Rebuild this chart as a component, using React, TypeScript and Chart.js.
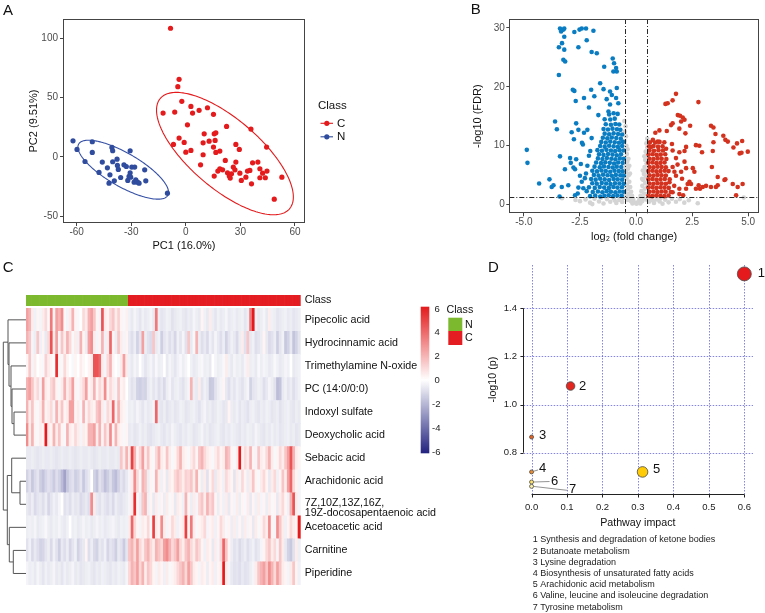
import React, { useEffect, useRef } from "react";
import { Chart, registerables } from "chart.js";

Chart.register(...registerables);

const FONT = "'Liberation Sans', Arial, Helvetica, sans-serif";

// ---------------- Panel A : PCA scores ----------------
const pcaClassC: number[][] = [
  [-8.4, 108.5], [-3.7, 65.4], [-4.4, 59.2], [-2.2, 46.8], [-12.5, 36.9], [-6.1, 37.7], [2.8, 42.5], [3.7, 36.9],
  [7.3, 39.2], [11.9, 41.4], [15.2, 35.8], [0.9, 27], [-3.7, 15.8], [-6.8, 10.4], [-0.9, 12.1], [0, 3.9], [2.8, 5.4],
  [10.1, 19.4], [9.5, 11.8], [9.5, 1.7], [12.8, 13.2], [15.6, 19.4], [16.1, 13.8], [15.2, 8.2], [16.5, 3.7], [18.7, 4.8],
  [22.4, 25.6], [27.5, 10.4], [29.4, 6.2], [35.8, 23.4], [44.4, 8.2], [8.1, -6.8], [15.6, -16.3], [17.6, -12.1],
  [18.7, -10.1], [20.2, -11], [21.7, -3.1], [22.9, -13.5], [23.9, -16.3], [24.4, -18], [26.1, -8.7], [27, -11],
  [27.5, -4.5], [29.7, -13.8], [30.5, -20], [33, -17.2], [33.9, -12.1], [35.2, -11.5], [36.1, -22.8], [36.7, -5.1],
  [39.6, -4.5], [40.7, -10.1], [40.7, -17.7], [42.2, -13.8], [43.7, -17.7], [44.6, -12.1], [52.8, -17.2],
  [48.6, -35.8], [25.1, -14.4], [16.5, 20.2],
];
const pcaClassN: number[][] = [
  [-62, 13.5], [-59.8, 6.2], [-55.4, -4], [-51.4, 12.7], [-51.4, 3.7], [-47.7, -13.2], [-45.9, -4.5], [-43.1, -9.3],
  [-41.7, -15.2], [-42.2, -22.3], [-40.6, 7.9], [-40.2, 5.1], [-40.2, -4.2], [-39.3, -20.3], [-37.8, -2], [-37.6, -7.3],
  [-37.1, -10.7], [-35.8, -17.5], [-34, -6.8], [-32.7, -8.2], [-31.9, -20], [-31.2, -16.6], [-30.6, 5.1], [-30.6, -13.5],
  [-30.3, -17.2], [-29.7, -8.7], [-28.4, -21.4], [-28.1, -8.7], [-27.5, -19.4], [-26.6, -21.4], [-25.7, -22.3],
  [-22.6, -11], [-22, -20.3], [-10.1, -30.7],
];
// confidence ellipses: centre, x half-range, y components (cos / sin)
const ellipseC = { cx: 21.5, cy: 2.7, ax: 37.6, yc: -36.65, ys: 36.4 };
const ellipseN = { cx: -34.4, cy: -10.9, ax: 24.9, yc: -19.05, ys: 16.0 };
const pcaXTicks = [-60, -30, 0, 30, 60];
const pcaYTicks = [-50, 0, 50, 100];

// ---------------- Panel B : volcano ----------------
const volcanoDownSparse: number[][] = [
  [-3.39, 29.9], [-3.24, 29.7], [-3.2, 29.9], [-3.34, 29.4], [-3.2, 28.5], [-3.3, 27.4], [-3.44, 26.7], [-3.2, 26.3],
  [-3.24, 24.6], [-3.16, 24.3], [-3.44, 22.0], [-2.75, 29.3], [-2.52, 29.7], [-2.42, 29.9], [-2.23, 29.9], [-1.9, 29.5],
  [-2.2, 27.9], [-2.57, 26.7], [-1.98, 25.9], [-1.75, 25.7], [-1.42, 23.4], [-1.04, 24.8], [-0.98, 24.0], [-0.89, 23.2],
  [-1.01, 22.6], [-0.86, 22.6], [-2.82, 19.5], [-2.75, 19.3], [-2.0, 19.5], [-1.6, 20.6], [-1.45, 19.6], [-2.69, 17.6],
  [-2.32, 18.1], [-2.1, 16.5], [-1.86, 18.4], [-1.16, 19.2], [-1.08, 18.6], [-0.86, 19.8], [-0.89, 18.1], [-1.31, 17.9],
  [-1.16, 17.0], [-0.79, 17.2], [-0.82, 15.4], [-1.23, 15.8], [-1.68, 15.2], [-3.61, 14.1], [-3.53, 12.8], [-2.67, 13.8],
  [-2.87, 12.3], [-2.57, 12.7], [-2.77, 11.1], [-2.32, 12.2], [-2.17, 12.7], [-1.98, 11.3], [-2.37, 10.2], [-2.04, 9.1],
  [-2.41, 10.5], [-4.87, 9.3], [-4.84, 7.1], [-3.39, 8.2], [-2.94, 7.9], [-2.91, 7.1], [-2.67, 7.7], [-2.46, 6.9],
  [-2.79, 6.3], [-2.72, 6.0], [-3.17, 6.0], [-2.17, 6.6], [-3.86, 4.3], [-4.32, 3.6], [-3.68, 3.3], [-3.76, 3.0],
  [-3.31, 3.0], [-3.02, 3.3], [-3.41, 1.4], [-2.72, 1.6], [-2.57, 2.9], [-2.35, 2.8], [-2.42, 3.9], [-2.28, 4.5],
  [-2.23, 5.3], [-2.6, 1.9], [-2.5, 4.9], [-2.1, 8.3],
];
const volcanoDownDense: number[][] = [
  [-2.05, 1.45], [-1.82, 1.55], [-1.6, 1.4], [-1.41, 1.5], [-1.22, 1.6], [-1.02, 1.45], [-0.83, 1.55], [-0.64, 1.5],
  [-2.2, 2.3], [-1.93, 2.15], [-1.7, 2.25], [-1.5, 2.1], [-1.31, 2.3], [-1.12, 2.2], [-0.92, 2.1], [-0.73, 2.25], [-0.56, 2.2],
  [-2.1, 2.95], [-1.84, 2.85], [-1.62, 3.0], [-1.42, 2.9], [-1.21, 2.85], [-1.01, 3.0], [-0.83, 2.9], [-0.63, 2.95],
  [-1.95, 3.65], [-1.75, 3.55], [-1.53, 3.7], [-1.33, 3.6], [-1.14, 3.5], [-0.94, 3.65], [-0.74, 3.6], [-0.55, 3.55],
  [-2.0, 4.35], [-1.8, 4.25], [-1.6, 4.4], [-1.4, 4.3], [-1.2, 4.2], [-1.0, 4.35], [-0.82, 4.3], [-0.62, 4.25],
  [-1.88, 5.05], [-1.67, 4.95], [-1.47, 5.1], [-1.27, 5.0], [-1.08, 4.9], [-0.9, 5.05], [-0.7, 5.0], [-0.55, 4.95],
  [-1.95, 5.75], [-1.74, 5.65], [-1.54, 5.8], [-1.35, 5.7], [-1.15, 5.6], [-0.96, 5.75], [-0.77, 5.7], [-0.6, 5.65],
  [-1.85, 6.45], [-1.62, 6.35], [-1.43, 6.5], [-1.23, 6.4], [-1.04, 6.3], [-0.86, 6.45], [-0.66, 6.4],
  [-1.78, 7.15], [-1.56, 7.05], [-1.37, 7.2], [-1.17, 7.1], [-0.98, 7.0], [-0.8, 7.15], [-0.6, 7.1],
  [-1.7, 7.85], [-1.5, 7.75], [-1.3, 7.9], [-1.1, 7.8], [-0.92, 7.7], [-0.72, 7.85], [-0.55, 7.8],
  [-1.65, 8.55], [-1.45, 8.45], [-1.25, 8.6], [-1.05, 8.5], [-0.86, 8.4], [-0.67, 8.55],
  [-1.72, 9.25], [-1.52, 9.15], [-1.32, 9.3], [-1.12, 9.2], [-0.93, 9.1], [-0.74, 9.25], [-0.56, 9.2],
  [-1.6, 9.95], [-1.4, 9.85], [-1.2, 10.0], [-1.0, 9.9], [-0.81, 9.8], [-0.62, 9.95],
  [-1.55, 10.65], [-1.35, 10.55], [-1.15, 10.7], [-0.95, 10.6], [-0.76, 10.5], [-0.58, 10.65],
  [-1.48, 11.35], [-1.28, 11.25], [-1.08, 11.4], [-0.88, 11.3], [-0.68, 11.2],
  [-1.4, 12.05], [-1.2, 11.95], [-1.0, 12.1], [-0.8, 12.0], [-0.62, 11.9],
  [-1.45, 12.85], [-1.25, 12.75], [-1.05, 12.9], [-0.85, 12.8], [-0.7, 12.7],
  [-1.35, 13.65], [-1.12, 13.55], [-0.92, 13.7], [-0.75, 13.6],
  [-1.4, 14.5], [-1.15, 14.45], [-0.95, 14.6], [-1.2, 15.3], [-1.0, 15.5],
];
const volcanoUpSparse: number[][] = [
  [1.78, 18.8], [1.63, 17.7], [1.41, 17.2], [1.31, 17.1], [2.78, 17.4], [1.86, 15.2], [1.96, 15.1], [2.08, 14.8],
  [2.16, 14.4], [2.01, 14.1], [1.63, 13.8], [1.56, 13.5], [1.93, 12.9], [2.2, 12.1], [2.41, 13.4], [1.04, 12.6],
  [0.86, 12.2], [1.37, 12.5], [3.34, 13.4], [3.45, 13.1], [3.54, 12.0], [3.45, 10.6], [3.89, 11.7], [3.98, 11.0],
  [4.09, 10.7], [4.34, 9.7], [4.5, 10.4], [4.73, 10.8], [4.62, 8.7], [4.7, 8.8], [4.98, 9.0], [3.42, 9.1], [2.94, 8.9],
  [2.82, 10.0], [2.67, 10.1], [2.23, 9.8], [2.16, 9.1], [1.93, 8.9], [1.78, 7.9], [2.16, 7.3], [2.23, 6.2], [2.01, 5.6],
  [2.53, 6.2], [2.6, 5.6], [3.38, 6.4], [3.64, 4.7], [3.98, 4.3], [3.94, 4.2], [3.64, 3.3], [3.56, 3.0], [3.34, 3.0],
  [3.12, 3.2], [2.97, 3.0], [2.85, 2.7], [2.79, 3.3], [2.67, 2.7], [2.38, 3.9], [2.3, 3.5], [2.45, 3.5], [2.23, 2.7],
  [4.31, 3.5], [4.53, 3.0], [4.75, 3.5], [4.46, 1.6], [1.93, 2.7], [1.93, 1.8], [2.1, 1.6], [1.63, 2.1], [1.49, 3.8],
  [1.78, 4.9], [1.71, 5.6], [1.63, 6.4], [1.63, 9.2], [1.6, 10.3], [1.34, 9.5], [1.26, 10.6], [0.75, 11.0], [0.97, 10.7],
  [0.67, 9.8], [1.7, 3.2], [1.85, 6.8], [2.05, 4.4],
];
const volcanoUpDense: number[][] = [
  [0.55, 1.5], [0.72, 1.45], [0.9, 1.55], [1.08, 1.5], [1.26, 1.45], [1.45, 1.55],
  [0.6, 2.2], [0.78, 2.25], [0.96, 2.15], [1.14, 2.25], [1.32, 2.2], [1.55, 2.15],
  [0.55, 2.9], [0.73, 2.95], [0.91, 2.85], [1.09, 2.95], [1.27, 2.9], [1.46, 2.85],
  [0.6, 3.6], [0.78, 3.55], [0.96, 3.65], [1.14, 3.6], [1.33, 3.55],
  [0.55, 4.3], [0.73, 4.35], [0.91, 4.25], [1.09, 4.3], [1.28, 4.35], [1.5, 4.3],
  [0.6, 5.0], [0.78, 4.95], [0.96, 5.05], [1.14, 5.0], [1.33, 4.95],
  [0.55, 5.7], [0.73, 5.75], [0.91, 5.65], [1.09, 5.7], [1.28, 5.75], [1.45, 5.7],
  [0.6, 6.4], [0.78, 6.35], [0.96, 6.45], [1.14, 6.4], [1.33, 6.35],
  [0.55, 7.1], [0.73, 7.15], [0.91, 7.05], [1.09, 7.1], [1.27, 7.15],
  [0.6, 7.8], [0.78, 7.75], [0.96, 7.85], [1.14, 7.8], [1.35, 7.75],
  [0.56, 8.5], [0.74, 8.55], [0.92, 8.45], [1.1, 8.5], [1.3, 8.55],
  [0.6, 9.2], [0.8, 9.15], [1.0, 9.25], [1.2, 9.2],
  [0.58, 9.9], [0.78, 9.95], [0.98, 9.85], [1.18, 9.9],
  [0.62, 10.6], [0.85, 10.55], [1.05, 10.65],
];
const volcanoNotSig: number[][] = [
  [-0.52, 14.2], [-0.47, 13.3], [-0.5, 12.4], [-0.45, 11.6], [-0.5, 10.8], [-0.43, 10.0], [-0.49, 9.3], [-0.41, 8.6],
  [-0.48, 7.9], [-0.39, 7.3], [-0.46, 6.7], [-0.36, 6.1], [-0.44, 5.5], [-0.33, 5.0], [-0.42, 4.4], [-0.3, 3.9],
  [-0.4, 3.4], [-0.26, 3.0], [-0.37, 2.6], [-0.22, 2.2], [-0.33, 1.8], [-0.18, 1.5], [-0.28, 1.1], [-0.13, 0.9],
  [-0.22, 0.6], [-0.08, 0.4], [-0.16, 0.2], [-0.5, 4.8], [-0.5, 3.2], [-0.49, 2.0], [-0.45, 1.3], [-0.36, 0.8],
  [-0.5, 6.0], [-0.34, 7.8], [-0.38, 9.4], [-0.3, 6.6], [-0.27, 5.3],
  [0.5, 11.2], [0.46, 10.4], [0.5, 9.7], [0.43, 9.0], [0.49, 8.3], [0.41, 7.6], [0.47, 7.0], [0.38, 6.4], [0.45, 5.8],
  [0.35, 5.2], [0.43, 4.7], [0.32, 4.2], [0.41, 3.7], [0.28, 3.2], [0.39, 2.7], [0.24, 2.3], [0.36, 1.9], [0.2, 1.5],
  [0.32, 1.2], [0.15, 0.9], [0.27, 0.6], [0.08, 0.4], [0.19, 0.2], [0.02, 0.15], [0.5, 5.0], [0.5, 3.0], [0.48, 1.8],
  [0.45, 0.9], [0.3, 5.8], [0.37, 8.2], [0.27, 4.4],
  [-2.5, 0.6], [-2.25, 0.9], [-2.05, 0.35], [-1.85, 1.0], [-1.65, 0.55], [-1.45, 0.2], [-1.3, 0.95], [-1.15, 0.5],
  [-1.0, 1.1], [-0.88, 0.3], [-0.75, 0.8], [-0.62, 0.45], [-0.57, 1.15], [-1.95, 0.1], [-1.55, 1.2], [-0.95, 0.7],
  [0.58, 0.5], [0.68, 1.0], [0.8, 0.3], [0.92, 0.9], [1.05, 0.55], [1.18, 0.15], [1.3, 0.85], [1.45, 0.4], [1.6, 1.0],
  [1.78, 0.5], [1.95, 0.95], [2.15, 0.35], [2.35, 0.75], [2.75, 0.25], [4.8, 1.2], [-3.3, 1.1], [-2.7, 0.8],
  [0.75, 0.7], [1.1, 1.15],
];
const fcThreshold = 0.5;
const fdrThreshold = 1.3;
const volcanoXTicks = [-5, -2.5, 0, 2.5, 5];
const volcanoYTicks = [0, 10, 20, 30];

// ---------------- Panel C : heatmap ----------------
const samplesN = 38;
const samplesC = 64;
const metaboliteNames: (string | string[])[] = [
  "Pipecolic acid", "Hydrocinnamic acid", "Trimethylamine N-oxide", "PC (14:0/0:0)", "Indoxyl sulfate",
  "Deoxycholic acid", "Sebacic acid", "Arachidonic acid", ["7Z,10Z,13Z,16Z,", "19Z-docosapentaenoic acid"],
  "Acetoacetic acid", "Carnitine", "Piperidine",
];
const pipecolic = [2.5,2,0.5,-0.4,0.3,-0.3,0.5,1,-0.2,3.5,0.3,2.5,2,3,0.2,-0.3,0.5,2,0.3,-0.2,0,1,0.5,2,2.5,1.5,0.3,-0.3,4.5,0.5,0.3,1,1.5,0.5,1.2,0.3,-0.2,0.4,
  -0.4,-0.6,-0.3,-0.5,-0.7,-0.4,-0.6,-0.5,-0.3,-0.6,3.5,-0.5,-0.7,-0.6,-0.4,-0.5,-0.8,-0.6,-0.5,-0.4,-0.6,-0.7,-0.5,-0.6,-0.3,-0.5,-0.6,0.3,-0.4,-0.6,
  0.5,-0.5,-0.7,-0.4,-0.6,-0.5,-0.3,-0.6,-0.5,-0.4,-0.6,-0.5,-0.4,-0.7,-0.5,3.5,6,-0.4,-0.6,-0.5,-0.3,-0.6,0.5,-0.4,-0.5,-0.7,-0.6,-0.5,-0.4,-0.6,-0.5,-0.7,-0.6,-0.5];
const hydrocinnamic = [2,1.5,-0.3,-0.5,1.5,-0.4,0.3,-0.6,1,4.5,0.5,2.5,-0.3,1.5,0.5,2,1,-0.2,0.5,-0.4,2,0.3,-0.5,2.5,3,0.5,-0.3,0.3,2,-0.4,0.5,4,0.3,-0.5,1.5,0.5,-0.3,0.3,
  -0.6,-0.9,-0.5,-1.2,-0.7,2.5,-0.5,-0.8,-1,1.5,-0.6,-0.4,-1.3,-0.7,-0.5,-0.9,-0.6,-1.1,-0.4,-0.7,-0.3,-0.8,1.5,-0.6,-0.2,2,-0.5,-0.9,-0.6,-1,
  -0.4,-0.7,-0.3,-0.6,-0.9,-0.5,-1.2,-0.7,-0.4,-0.6,-1,-0.5,0.5,-0.8,1.5,-0.6,-0.4,-0.9,-0.7,-0.5,0.3,-0.6,-1,-0.8,-0.5,-1.3,-0.7,-0.4,-1.5,-1.2,-0.6,-1.6,-1.2,-0.7];
const trimethylamineNOxide = [0.3,1.5,-0.3,0.5,0,0.2,-0.2,1.2,0.5,0.3,0,5.5,0.3,-0.2,1,0.3,0,-0.2,0.3,0,0.5,0.2,0,0.3,0.5,4.5,4.5,4,0.5,-0.3,1,2,0.3,0,-0.2,0.5,2.5,0.5,
  -0.4,-0.6,-0.3,-0.5,0,-0.4,-0.7,-0.5,-0.3,-0.6,-0.2,-0.5,-0.4,0,-0.6,-0.3,-0.5,-0.7,-0.4,-0.2,-0.5,-0.3,0,-0.4,-0.6,-0.5,-0.3,-0.2,-0.5,-0.4,
  -0.6,0,-0.3,-0.5,-0.4,-0.2,0.5,-0.4,-0.6,-0.3,-0.5,-0.4,-0.6,-0.3,0.5,-0.5,-0.4,-0.6,-0.2,-0.5,-0.3,-0.4,-0.6,-0.5,-0.2,-0.4,-0.6,-0.5,-0.3,-0.4,0,-0.6,-0.5,-0.4];
const pc140 = [2,2.5,1.5,0.5,1,-0.3,2.5,0.5,0.3,1,1.5,0.3,-0.2,0.5,2,0.5,1,2.5,0.3,-0.2,0.5,1,2.5,0.3,0.5,2,0.3,1,0.5,3,0.3,1,0.5,-0.3,1.5,0.3,0.5,0,
  -0.5,-0.8,-0.6,-1.2,-1.3,-1.1,-1.2,-0.6,-0.4,-0.7,-0.5,-0.9,-0.6,-1,-0.5,-0.3,-0.7,-0.5,-0.4,-0.6,-0.8,-0.5,-0.3,2,-0.5,-0.6,0.5,-0.7,-0.4,-0.6,
  -1.5,-1.4,-0.8,-0.5,-0.3,0.3,-0.6,-0.9,-0.5,-0.7,-0.4,-0.6,-0.8,-0.5,-0.3,-1.2,-0.7,-0.6,-0.4,-0.5,-0.9,-0.6,-0.3,-0.5,-0.8,-1.8,-1.6,-0.6,-0.4,-0.7,-0.5,-0.9,-0.6,-0.4];
const indoxylSulfate = [2,0.5,1.5,0.3,-0.2,0.5,2,0.3,0.5,1,-0.3,2,0.5,1.5,0.3,0.5,2.5,2.5,0.3,0.5,-0.2,2,0.3,1,0.5,0.3,1.5,2,0.5,-0.3,1,0.5,4,0.3,2,0.5,0.3,-0.2,
  -0.5,-0.4,-0.6,-0.3,-0.5,-0.7,-0.4,-0.6,-0.5,-0.3,4,-0.6,-0.7,-0.5,-0.8,-0.6,-0.5,-0.7,-0.6,-0.4,-0.5,-0.7,-0.6,-0.5,-0.4,-0.6,-0.8,-0.5,-0.3,-0.6,
  -0.5,-0.7,-0.6,-0.4,-0.5,-0.7,-0.6,0.3,-0.5,-0.6,-0.4,-0.7,-0.5,-0.6,-0.8,-0.5,-0.4,-0.6,-0.7,-0.5,-0.6,-0.4,-0.5,-0.7,-0.6,-0.5,-0.8,-0.6,-0.5,-0.4,-0.6,-0.7,-0.5,-0.6];
const deoxycholic = [3,0.5,2,0.3,-0.2,0.5,0.3,6,0.5,0.3,2,0.5,1.5,0.3,-0.2,2,0.5,0.3,1,0.5,-0.3,0.5,0.3,2,2,2.5,0.5,2,0.3,1.5,0.5,3,0.3,2,0.5,0.3,-0.2,0.3,
  -0.6,-0.5,-0.7,-0.6,-0.4,-0.6,-0.5,-0.7,-0.8,-0.6,-0.5,-0.4,-0.6,-0.7,-0.5,-0.6,-0.3,-0.5,-0.6,-0.7,-0.5,-0.6,-0.4,-0.5,-0.7,-0.6,-0.5,-0.3,-0.6,-0.5,
  -0.7,-0.6,-0.5,-0.4,-0.6,-0.7,-0.5,-0.6,-0.4,-0.5,-0.6,-0.7,-0.5,-0.6,-0.4,-0.5,-0.6,-0.3,-0.5,-0.6,-0.7,-0.5,-0.6,-0.4,-0.6,-0.5,-0.7,-0.6,-0.5,-0.4,-0.6,-0.5,-0.7,-0.6];
const sebacic = [-0.6,-0.6,-0.5,-0.6,-0.7,-0.6,-0.5,-0.6,-0.6,-0.5,-0.6,-0.7,-0.6,-0.5,-0.6,-0.6,-0.5,-0.6,-0.7,-0.6,-0.5,-0.6,-0.6,-0.5,-0.6,-0.7,-0.6,-0.5,-0.6,-0.6,-0.5,-0.6,-0.6,-0.5,-0.6,1.5,0.5,2,
  0.5,5,2,0.3,1,2.5,0.5,1.5,0.3,-0.2,1,2,0.5,0.3,1.5,0.5,-0.2,0.3,1,2,0.5,0.3,-0.2,0.5,1,0.3,1.5,2,1,0.5,
  0.3,-0.2,0.5,1,0.3,0.5,2,1.5,0.3,-0.2,0.5,6,0.3,1,0.5,2,0.3,-0.3,1.5,0.5,0.3,1,2,0.5,-0.2,0.3,1,0.5,1.5,2.5,4.5,2,0.5,0.3];
const arachidonic = [-1.2,-0.8,-1.5,-1,-0.7,-1.3,-1.6,-1.1,-0.8,-1,-1.4,-0.9,-1.2,-1.8,-2.5,-1.5,-1,-0.8,-1.3,-1.1,-0.7,-1.5,-0.9,-0.6,0,-1.2,-1.6,-0.8,-1.1,-1.7,-1.3,-0.9,-1.5,-1.8,-1.2,-0.7,-1,-0.6,
  -0.3,0.5,3,1,-0.2,2,1.5,-0.5,0.3,-0.2,2,0.5,-0.4,0.3,-0.6,0.5,0.3,1,1.5,1,0.5,1.2,1,1.5,0.5,2,0.3,-0.5,0.5,-0.8,
  0.3,1,-0.6,0.5,0.3,-0.4,1,0.5,0.3,-0.7,0.5,-0.3,1,0.3,-0.5,0.5,1.5,0.3,-0.2,0.5,1,0.3,-0.6,0.5,1,-0.4,0.3,1.5,0.5,2.5,4,1,0.3,-0.3];
const docosapentaenoic = [-0.6,-0.8,-0.5,-1,-0.7,-0.6,-0.9,-0.5,-1.1,-0.7,-0.4,-0.6,-0.3,0,-0.8,-0.6,-0.9,-0.5,-0.7,-0.6,-1,-0.8,-0.6,-0.9,3,0.5,-0.6,-0.8,-0.5,-0.7,-0.9,-0.6,-1,-0.5,-0.7,-0.8,-0.6,-0.5,
  -0.3,0.5,5.5,0.3,-0.5,1.5,2,-0.4,0.3,-0.6,0.5,-0.3,0.3,-0.5,0.5,-0.2,0.3,-0.6,0.5,0.3,-0.4,2,0.3,-0.5,0.5,-0.3,1,1.5,0.5,2,1,1.5,0.3,-0.5,0.3,-0.4,
  0.5,-0.6,0.3,-0.3,0.5,-0.5,0.3,-0.2,0.5,-0.6,0.3,-0.4,0.5,-0.3,0.3,-0.5,0.5,-0.2,0.3,-0.6,0.5,1,0.3,-0.4,2,4.5,0.5,-0.3];
const acetoacetic = [-0.5,-0.4,-0.5,-0.3,-0.6,-0.5,-0.4,-0.2,-0.5,-0.6,-0.4,-0.5,-0.3,-0.5,-0.6,-0.4,0,-0.5,-0.4,-0.6,-0.5,-0.3,-0.5,-0.4,-0.6,-0.5,-0.3,-0.5,-0.4,-0.6,-0.5,-0.4,-0.3,-0.5,-0.6,-0.4,-0.5,-0.4,
  0.5,4,1,0.3,-0.3,0.5,0.3,1,-0.2,5,0.5,0.3,3,0.5,-0.3,0.3,1,0.5,-0.4,0.3,0.5,5,0.3,3.5,0.5,-0.2,0.3,0.5,1,-0.3,
  0.3,0.5,-0.4,0.3,1,0.5,-0.2,0.3,-0.5,0.5,-0.4,0.3,-0.5,0.5,-0.3,0.3,-0.6,0.5,-0.2,0.3,1,0.5,3,0.3,-0.3,3,1.5,0.5,-0.4,0.3,1,0.5,0.3,6];
const carnitine = [-0.8,-0.4,-1,-0.6,-0.9,-1.2,-1.1,-0.7,-0.5,-1,-0.4,-0.8,-1.3,-0.6,-0.9,-0.5,-1.1,-0.7,-0.4,-1.2,-0.8,-0.6,0.3,-0.9,-0.5,-1,-1.2,-0.6,-0.8,-0.4,-1.1,-0.7,-0.9,-1.3,-0.6,-0.8,-1.4,-0.7,
  1.5,2,1,2.5,1,0.5,1.5,2,1,0.5,2,1.5,1,2.5,3,2,1,1.5,2.5,1,0.5,1.5,2,1,0.5,1.5,1,0.3,-0.4,0.5,
  0.3,-0.6,0.5,-0.3,1,4,1.5,0.3,-0.5,-0.8,-0.6,-1,-0.7,-0.5,-0.9,-0.6,-0.4,-0.8,-0.6,-0.3,0.3,1,1.5,0.5,1,-0.3,1.5,0.5,-0.6,-1.2,-1.5,-0.8,0.5,-0.5];
const piperidine = [-0.3,-0.5,-0.4,-0.6,-0.3,-0.5,-0.7,-0.4,-0.6,-0.5,-0.3,-0.6,-0.5,-0.7,-0.4,-0.6,-0.5,-0.3,-0.6,-0.5,-0.7,-0.6,-0.5,-0.4,-0.6,-0.7,-0.5,-0.6,-0.4,-0.5,-0.6,-0.7,-0.5,-0.6,-0.4,-0.5,-0.6,-0.3,
  1,2,1.5,2.5,1,2,0.5,1.5,1,0.3,-0.3,0.5,0.3,-0.4,0.5,-0.2,0.3,0.5,1,1.5,2,1,2.5,1.5,0.5,0.3,-0.3,0.5,0.3,-0.5,
  0.3,0.5,-0.4,0.3,0.5,6,0.5,-0.3,-0.6,-0.8,-0.7,-0.9,-0.6,-0.8,-0.7,-0.5,-0.3,0.5,1.5,2,2.5,1.5,3,2,1,2.5,1.5,0.5,0.3,-0.3,0.5,1.5,0.3,-0.4];
const heatRows = [pipecolic, hydrocinnamic, trimethylamineNOxide, pc140, indoxylSulfate, deoxycholic, sebacic,
  arachidonic, docosapentaenoic, acetoacetic, carnitine, piperidine];
// hierarchical clustering of rows: [childA, childB, height]; negative = leaf (-(row+1)), else merge index
const dendroMerges: number[][] = [
  [-5, -6, 12], [-4, 0, 14], [-3, 1, 15], [-2, 2, 17], [-1, 3, 18],
  [-8, -9, 6], [-7, 5, 14.3], [-11, -12, 12.7], [-10, 7, 16.7], [6, 8, 18.7], [4, 9, 22.7],
];
const colorbarTicks = [6, 4, 2, 0, -2, -4, -6];

// ---------------- Panel D : pathway analysis ----------------
const pathwayNames = [
  "Synthesis and degradation of ketone bodies", "Butanoate metabolism", "Lysine degradation",
  "Biosynthesis of unsaturated fatty acids", "Arachidonic acid metabolism",
  "Valine, leucine and isoleucine degradation", "Tyrosine metabolism",
];
const pathwayImpact = [0.6, 0.11, 0.0, 0.0, 0.313, 0.0, 0.0];
const pathwayLogP = [1.543, 1.077, 0.865, 0.72, 0.72, 0.678, 0.66];
const pathwayBubbleR = [7, 4.3, 2, 2, 5.3, 2, 2];
const pathwayColors = ["#E41A1C", "#E3261F", "#E8621F", "#EE8B2C", "#FFCB05", "#FFE468", "#FFF3A6"];
const labelNudge = [[17, 0], [12, 0], [11, -1.5], [11, -4], [14, -3], [23, -1], [41, 3.5]];
const impactTicks = [0, 0.1, 0.2, 0.3, 0.4, 0.5, 0.6];
const logPTicks = [0.8, 1.0, 1.2, 1.4];

// ---------------- helpers ----------------
const toXY = (arr: number[][]) => arr.map((p) => ({ x: p[0], y: p[1] }));
const fixTicks = (vals: number[]) => (scale: any) => {
  scale.ticks = vals.map((v) => ({ value: v }));
};
const HIGH = [228, 26, 28];
const LOW = [34, 34, 128];
function heatColor(v: number) {
  const t = Math.min(Math.abs(v) / 6, 1);
  const c = v >= 0 ? HIGH : LOW;
  const mix = (k: number) => Math.round(255 + (c[k] - 255) * t);
  return `rgb(${mix(0)},${mix(1)},${mix(2)})`;
}
const f = (size: number, extra: any = {}) => ({ family: FONT, size, ...extra });
function letter(ctx: any, ch: string, x: number, y: number) {
  ctx.save();
  ctx.font = `15px ${FONT}`;
  ctx.fillStyle = "#111";
  ctx.textBaseline = "alphabetic";
  ctx.textAlign = "left";
  ctx.fillText(ch, x, y);
  ctx.restore();
}
function frame(ctx: any, a: any) {
  ctx.save();
  ctx.strokeStyle = "#444";
  ctx.lineWidth = 1;
  ctx.strokeRect(Math.round(a.left) + 0.5, Math.round(a.top) + 0.5, Math.round(a.width) - 1, Math.round(a.height) - 1);
  ctx.restore();
}
const axisGrid = { drawOnChartArea: false, drawTicks: true, tickLength: 3, color: "#444" };

// ---------------- chart configs ----------------
const COLOR_C = "#E41A1C";
const COLOR_N = "#2F4C9E";

function makeA(): any {
  const plugin = {
    id: "pcaExtras",
    beforeDatasetsDraw(chart: any) {
      const { ctx, chartArea: a, scales } = chart;
      ctx.save();
      ctx.beginPath();
      ctx.rect(a.left, a.top, a.width, a.height);
      ctx.clip();
      ([[ellipseC, COLOR_C], [ellipseN, "#3651A6"]] as any[]).forEach(([e, col]) => {
        ctx.beginPath();
        for (let i = 0; i <= 200; i++) {
          const t = (i / 200) * Math.PI * 2;
          const px = scales.x.getPixelForValue(e.cx + e.ax * Math.cos(t));
          const py = scales.y.getPixelForValue(e.cy + e.yc * Math.cos(t) + e.ys * Math.sin(t));
          if (i === 0) ctx.moveTo(px, py);
          else ctx.lineTo(px, py);
        }
        ctx.closePath();
        ctx.strokeStyle = col;
        ctx.lineWidth = 1.1;
        ctx.stroke();
      });
      ctx.restore();
    },
    afterDraw(chart: any) {
      const { ctx, chartArea: a } = chart;
      frame(ctx, a);
      ctx.save();
      ctx.fillStyle = "#111";
      ctx.textBaseline = "middle";
      ctx.font = `11.5px ${FONT}`;
      ctx.fillText("Class", 318, 105.5);
      ([["C", COLOR_C, 123.3], ["N", COLOR_N, 136.8]] as any[]).forEach(([lab, col, yy]) => {
        ctx.strokeStyle = col;
        ctx.lineWidth = 1.1;
        ctx.beginPath();
        ctx.moveTo(320.5, yy);
        ctx.lineTo(333, yy);
        ctx.stroke();
        ctx.fillStyle = col;
        ctx.beginPath();
        ctx.arc(326.8, yy, 2.6, 0, Math.PI * 2);
        ctx.fill();
        ctx.fillStyle = "#111";
        ctx.font = `11.5px ${FONT}`;
        ctx.fillText(lab, 337, yy + 0.5);
      });
      ctx.restore();
      letter(ctx, "A", 3, 15);
    },
  };
  return {
    type: "scatter",
    data: {
      datasets: [
        { label: "C", data: toXY(pcaClassC), backgroundColor: COLOR_C, borderWidth: 0, pointRadius: 2.6 },
        { label: "N", data: toXY(pcaClassN), backgroundColor: COLOR_N, borderWidth: 0, pointRadius: 2.6 },
      ],
    },
    options: {
      animation: false, responsive: false, devicePixelRatio: 1, events: [],
      layout: { padding: { left: 27.4, top: 19, right: 75, bottom: 2.9 } },
      plugins: { legend: { display: false }, tooltip: { enabled: false } },
      scales: {
        x: {
          type: "linear", min: -67.5, max: 65.5, afterBuildTicks: fixTicks(pcaXTicks),
          afterFit: (s: any) => { s.height = 29.1; },
          ticks: { font: f(10), color: "#4D4D4D", padding: 0, maxRotation: 0 },
          grid: axisGrid, border: { display: false },
          title: { display: true, text: "PC1 (16.0%)", font: f(11), color: "#111", padding: 0 },
        },
        y: {
          type: "linear", min: -55.9, max: 116.3, afterBuildTicks: fixTicks(pcaYTicks),
          afterFit: (s: any) => { s.width = 35.6; },
          ticks: { font: f(10), color: "#4D4D4D", padding: 2 },
          grid: axisGrid, border: { display: false },
          title: { display: true, text: "PC2 (9.51%)", font: f(11), color: "#111", padding: 0 },
        },
      },
    },
    plugins: [plugin],
  };
}

function makeB(): any {
  const plugin = {
    id: "volcanoExtras",
    afterDatasetsDraw(chart: any) {
      const { ctx, chartArea: a, scales } = chart;
      ctx.save();
      ctx.strokeStyle = "#111";
      ctx.lineWidth = 0.9;
      ctx.setLineDash([5, 2, 1, 2]);
      [-fcThreshold, fcThreshold].forEach((v) => {
        const px = Math.round(scales.x.getPixelForValue(v)) + 0.5;
        ctx.beginPath();
        ctx.moveTo(px, a.top);
        ctx.lineTo(px, a.bottom);
        ctx.stroke();
      });
      const py = Math.round(scales.y.getPixelForValue(fdrThreshold)) + 0.5;
      ctx.beginPath();
      ctx.moveTo(a.left, py);
      ctx.lineTo(a.right, py);
      ctx.stroke();
      ctx.restore();
    },
    afterDraw(chart: any) {
      frame(chart.ctx, chart.chartArea);
      letter(chart.ctx, "B", 90.7, 14);
    },
  };
  const pt = { borderWidth: 0, pointRadius: 2.3 };
  return {
    type: "scatter",
    data: {
      datasets: [
        { label: "down", data: toXY([...volcanoDownSparse, ...volcanoDownDense]), backgroundColor: "#0A7DC2", ...pt },
        { label: "up", data: toXY([...volcanoUpSparse, ...volcanoUpDense]), backgroundColor: "#D3321F", ...pt },
        { label: "ns", data: toXY(volcanoNotSig), backgroundColor: "#D4D4D4", ...pt },
      ],
    },
    options: {
      animation: false, responsive: false, devicePixelRatio: 1, events: [],
      layout: { padding: { left: 91.7, top: 19, right: 6, bottom: 11.1 } },
      plugins: { legend: { display: false }, tooltip: { enabled: false } },
      scales: {
        x: {
          type: "linear", min: -5.65, max: 5.48, afterBuildTicks: fixTicks(volcanoXTicks),
          afterFit: (s: any) => { s.height = 30.6; },
          ticks: { font: f(10), color: "#4D4D4D", padding: 0, maxRotation: 0, callback: (v: number) => v.toFixed(1) },
          grid: axisGrid, border: { display: false },
          title: { display: true, text: "log\u2082 (fold change)", font: f(11), color: "#111", padding: 0 },
        },
        y: {
          type: "linear", min: -1.46, max: 31.5, afterBuildTicks: fixTicks(volcanoYTicks),
          afterFit: (s: any) => { s.width = 37.6; },
          ticks: { font: f(10), color: "#4D4D4D", padding: 1.5 },
          grid: axisGrid, border: { display: false },
          title: { display: true, text: "-log10 (FDR)", font: f(11), color: "#111", padding: 0 },
        },
      },
    },
    plugins: [plugin],
  };
}

function makeC(): any {
  const nCols = samplesN + samplesC;
  const cols = pipecolic.map((_, i) => String(i + 1));
  const classColors = cols.map((_, i) => (i < samplesN ? "#7DB92F" : "#E41D23"));
  const rowHeight = 1;
  const gapHeight = 0.113;
  const classHeight = 0.464;
  const nRows = heatRows.length;
  const tickValues = [...heatRows.map((_, i) => i + 0.5), nRows + gapHeight + classHeight / 2];
  tickValues[nRows - 9] = nRows - 9 + 0.34; // two-line label sits slightly lower
  const tickLabels = [...metaboliteNames.slice().reverse(), "Class"];
  const rowCenter = (row: number) => nRows - row - 0.5;

  const plugin = {
    id: "heatExtras",
    afterDraw(chart: any) {
      const { ctx, chartArea: a, scales } = chart;
      ctx.save();
      // dendrogram
      ctx.strokeStyle = "#555";
      ctx.lineWidth = 1;
      const nodes: { pos: number; h: number }[] = [];
      const get = (id: number) =>
        id < 0 ? { pos: scales.y.getPixelForValue(rowCenter(-id - 1)), h: 0 } : nodes[id];
      const hx = (h: number) => a.left - h;
      dendroMerges.forEach(([ca, cb, h]) => {
        const A = get(ca);
        const B = get(cb);
        ctx.beginPath();
        ctx.moveTo(hx(A.h), A.pos);
        ctx.lineTo(hx(h), A.pos);
        ctx.lineTo(hx(h), B.pos);
        ctx.lineTo(hx(B.h), B.pos);
        ctx.stroke();
        nodes.push({ pos: (A.pos + B.pos) / 2, h });
      });
      // colour key
      const cbx = 420.7, cby = 51.7, cbw = 8.6, cbh = 146.6;
      const g = ctx.createLinearGradient(0, cby, 0, cby + cbh);
      g.addColorStop(0, heatColor(6));
      g.addColorStop(0.5, heatColor(0));
      g.addColorStop(1, heatColor(-6));
      ctx.fillStyle = g;
      ctx.fillRect(cbx, cby, cbw, cbh);
      ctx.fillStyle = "#222";
      ctx.font = `9.5px ${FONT}`;
      ctx.textBaseline = "middle";
      ctx.textAlign = "left";
      colorbarTicks.forEach((v) => {
        ctx.fillText(String(v), v < 0 ? 432 : 434.5, cby + 2.3 + ((6 - v) / 12) * (cbh - 3.5));
      });
      // class key
      ctx.font = `10.7px ${FONT}`;
      ctx.fillStyle = "#111";
      ctx.fillText("Class", 446.5, 55.5);
      ctx.fillStyle = "#7DB92F";
      ctx.fillRect(448.3, 62.7, 14, 13.3);
      ctx.fillStyle = "#E41D23";
      ctx.fillRect(448.3, 76, 14, 14);
      ctx.fillStyle = "#111";
      ctx.fillText("N", 465, 70.5);
      ctx.fillText("C", 465, 83.5);
      ctx.restore();
      letter(ctx, "C", 2.7, 16.7);
    },
  };

  const rowSets = heatRows
    .slice()
    .reverse()
    .map((row, k) => ({
      label: String(k),
      data: row.map(() => rowHeight),
      backgroundColor: row.map(heatColor),
      borderWidth: 0,
      barPercentage: 1,
      categoryPercentage: 1,
    }));
  return {
    type: "bar",
    data: {
      labels: cols.slice(0, nCols),
      datasets: [
        ...rowSets,
        { label: "gap", data: cols.map(() => gapHeight), backgroundColor: "rgba(0,0,0,0)", borderWidth: 0, barPercentage: 1, categoryPercentage: 1 },
        { label: "Class", data: cols.map(() => classHeight), backgroundColor: classColors, borderWidth: 0, barPercentage: 1, categoryPercentage: 1 },
      ],
    },
    options: {
      animation: false, responsive: false, devicePixelRatio: 1, events: [],
      layout: { padding: { left: 26, top: 40, right: 0, bottom: 28 } },
      plugins: { legend: { display: false }, tooltip: { enabled: false } },
      scales: {
        x: { type: "category", stacked: true, display: false },
        y: {
          type: "linear", position: "right", stacked: true, min: 0, max: nRows + gapHeight + classHeight,
          afterBuildTicks: fixTicks(tickValues),
          afterFit: (s: any) => { s.width = 179.3; },
          ticks: {
            autoSkip: false, padding: 4, color: "#111",
            font: f(10.7, { lineHeight: 0.88 }),
            callback: (_v: number, i: number) => tickLabels[i],
          },
          grid: { display: false, drawTicks: false }, border: { display: false },
        },
      },
    },
    plugins: [plugin],
  };
}

function makeD(): any {
  const plugin = {
    id: "pathwayExtras",
    beforeDatasetsDraw(chart: any) {
      const { ctx, chartArea: a, scales } = chart;
      ctx.save();
      ctx.strokeStyle = "rgba(72,72,214,0.85)";
      ctx.lineWidth = 0.8;
      ctx.setLineDash([1.5, 1.5]);
      impactTicks.forEach((v) => {
        const px = Math.round(scales.x.getPixelForValue(v)) + 0.5;
        ctx.beginPath();
        ctx.moveTo(px, a.top);
        ctx.lineTo(px, a.bottom);
        ctx.stroke();
      });
      logPTicks.forEach((v) => {
        const py = Math.round(scales.y.getPixelForValue(v)) + 0.5;
        ctx.beginPath();
        ctx.moveTo(a.left - 2, py);
        ctx.lineTo(a.right, py);
        ctx.stroke();
      });
      ctx.setLineDash([]);
      ctx.strokeStyle = "#222";
      ctx.lineWidth = 1;
      const ax = Math.round(a.left) + 0.5;
      const ay = Math.round(a.bottom) + 0.5;
      ctx.beginPath();
      ctx.moveTo(ax, scales.y.getPixelForValue(logPTicks[0]));
      ctx.lineTo(ax, scales.y.getPixelForValue(logPTicks[logPTicks.length - 1]));
      ctx.moveTo(scales.x.getPixelForValue(impactTicks[0]), ay);
      ctx.lineTo(scales.x.getPixelForValue(impactTicks[impactTicks.length - 1]), ay);
      ctx.stroke();
      logPTicks.forEach((v) => {
        const py = Math.round(scales.y.getPixelForValue(v)) + 0.5;
        ctx.beginPath();
        ctx.moveTo(ax - 3, py);
        ctx.lineTo(ax, py);
        ctx.stroke();
      });
      impactTicks.forEach((v) => {
        const px = Math.round(scales.x.getPixelForValue(v)) + 0.5;
        ctx.beginPath();
        ctx.moveTo(px, ay);
        ctx.lineTo(px, ay + 3);
        ctx.stroke();
      });
      ctx.restore();
    },
    afterDatasetsDraw(chart: any) {
      const { ctx, scales } = chart;
      ctx.save();
      ctx.font = `13px ${FONT}`;
      ctx.fillStyle = "#111";
      ctx.textAlign = "center";
      ctx.textBaseline = "middle";
      pathwayImpact.forEach((v, i) => {
        const px = scales.x.getPixelForValue(v);
        const py = scales.y.getPixelForValue(pathwayLogP[i]);
        const lx = px + labelNudge[i][0];
        const ly = py + labelNudge[i][1];
        if (Math.hypot(labelNudge[i][0], labelNudge[i][1]) > 12 && i !== 4 && i !== 0) {
          ctx.strokeStyle = "#777";
          ctx.lineWidth = 0.8;
          ctx.beginPath();
          ctx.moveTo(px + 1.5, py);
          ctx.lineTo(lx - 5, ly + 0.5);
          ctx.stroke();
        } else if (i === 3) {
          ctx.strokeStyle = "#777";
          ctx.lineWidth = 0.8;
          ctx.beginPath();
          ctx.moveTo(px + 1.5, py - 0.5);
          ctx.lineTo(lx - 4.5, ly + 2);
          ctx.stroke();
        }
        ctx.fillText(String(i + 1), lx, ly);
      });
      ctx.restore();
    },
    afterDraw(chart: any) {
      const { ctx } = chart;
      ctx.save();
      ctx.font = `9px ${FONT}`;
      ctx.fillStyle = "#222";
      ctx.textBaseline = "middle";
      pathwayNames.forEach((name, i) => {
        ctx.fillText(`${i + 1} ${name}`, 52.7, 285 + i * 11.2);
      });
      ctx.restore();
      letter(ctx, "D", 8, 17);
    },
  };
  const transparent = "rgba(0,0,0,0)";
  return {
    type: "bubble",
    data: {
      datasets: [
        {
          label: "pathways",
          data: pathwayImpact.map((v, i) => ({ x: v, y: pathwayLogP[i], r: pathwayBubbleR[i] })),
          backgroundColor: pathwayColors,
          borderColor: "#4A4A4A",
          borderWidth: 0.8,
        },
      ],
    },
    options: {
      animation: false, responsive: false, devicePixelRatio: 1, events: [],
      layout: { padding: { left: 6.3, top: 10, right: 12, bottom: 83.3 } },
      plugins: { legend: { display: false }, tooltip: { enabled: false } },
      scales: {
        x: {
          type: "linear", min: -0.025, max: 0.6245, afterBuildTicks: fixTicks(impactTicks),
          afterFit: (s: any) => { s.height = 35.4; },
          ticks: { font: f(9.5), color: "#222", padding: 4, maxRotation: 0, callback: (v: number) => v.toFixed(1) },
          grid: { drawOnChartArea: false, drawTicks: true, tickLength: 3, color: transparent },
          border: { display: false },
          title: { display: true, text: "Pathway impact", font: f(10.7), color: "#111", padding: 0 },
        },
        y: {
          type: "linear", min: 0.627, max: 1.58, afterBuildTicks: fixTicks(logPTicks),
          afterFit: (s: any) => { s.width = 36.4; },
          ticks: { font: f(9.5), color: "#222", padding: 2.7, callback: (v: number) => v.toFixed(1) },
          grid: { drawOnChartArea: false, drawTicks: true, tickLength: 3, color: transparent },
          border: { display: false },
          title: { display: true, text: "-log10 (p)", font: f(10.7), color: "#111", padding: 0 },
        },
      },
    },
    plugins: [plugin],
  };
}

function ChartBox(props: { left: number; top: number; width: number; height: number; make: () => any }) {
  const ref = useRef<HTMLCanvasElement>(null);
  useEffect(() => {
    const chart = new Chart(ref.current as HTMLCanvasElement, props.make());
    return () => chart.destroy();
  }, []);
  const { left, top, width, height } = props;
  return (
    <canvas
      ref={ref}
      width={width}
      height={height}
      style={{ position: "absolute", left, top, width, height, display: "block" }}
    />
  );
}

export default function App() {
  return (
    <div style={{ position: "absolute", left: 0, top: 0, width: 765, height: 613, background: "#fff", overflow: "hidden" }}>
      <ChartBox left={0} top={0} width={380} height={255} make={makeA} />
      <ChartBox left={380} top={0} width={385} height={255} make={makeB} />
      <ChartBox left={0} top={255} width={480} height={358} make={makeC} />
      <ChartBox left={480} top={255} width={285} height={358} make={makeD} />
    </div>
  );
}
